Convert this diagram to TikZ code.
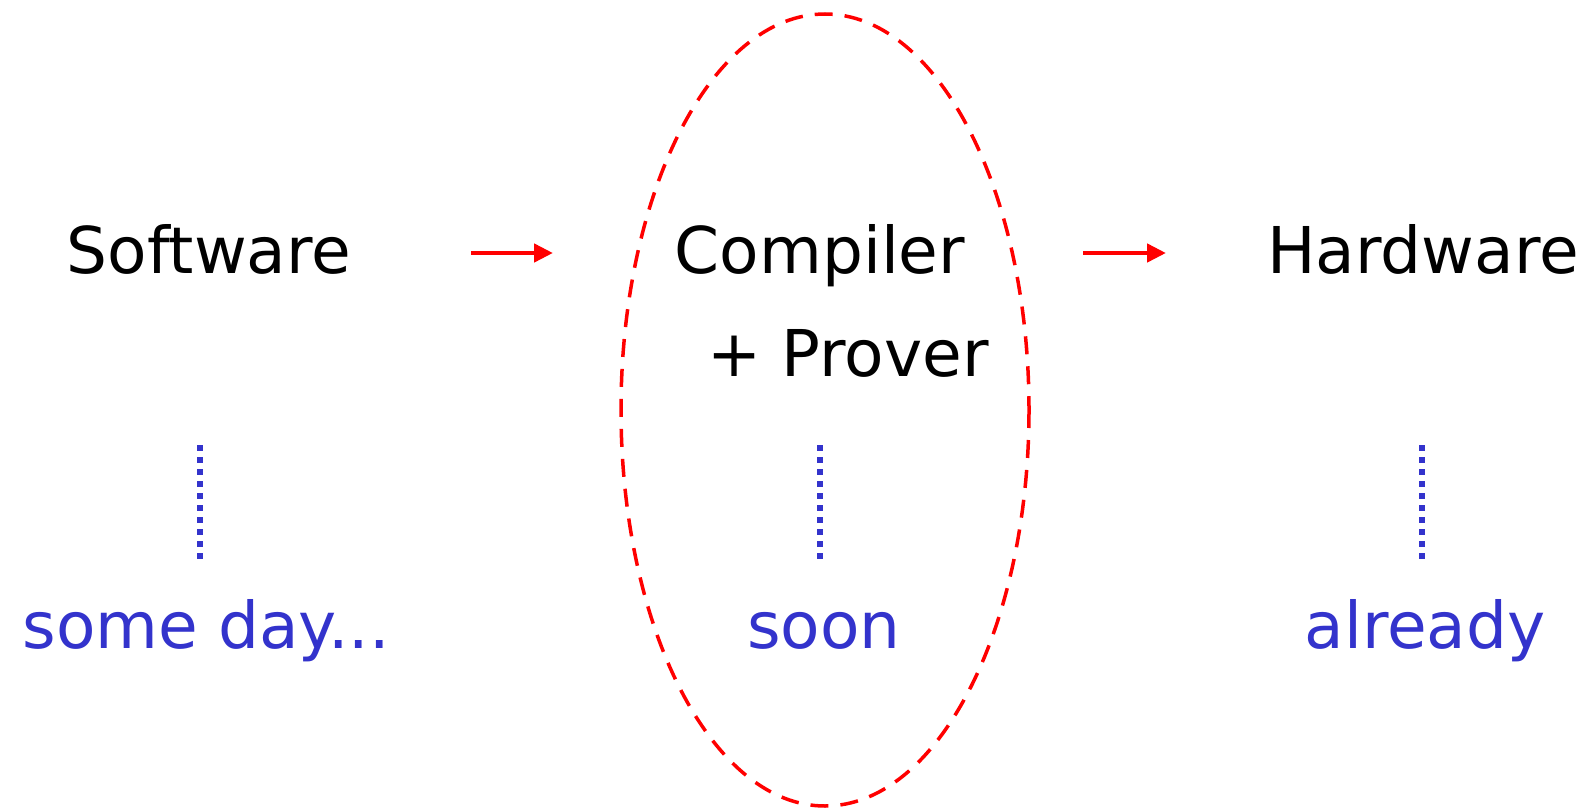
\documentclass[tikz,border=0pt]{standalone}
\usepackage{fontspec}
\setmainfont{DejaVu Sans}
\usetikzlibrary{arrows.meta}
\definecolor{noteblue}{RGB}{51,51,204}
\begin{document}
\begin{tikzpicture}[x=1pt,y=-1pt,
  label text/.style={font=\fontsize{64.5}{78}\selectfont, anchor=base, inner sep=0pt},
  stage/.style={label text, text=black},
  note/.style={label text, text=noteblue},
  flow/.style={draw=red, line width=4.5pt, -{Triangle[length=19pt,width=18pt]}},
  link/.style={draw=noteblue, line width=6pt, dash pattern=on 6pt off 6pt},
]
\useasboundingbox (0,0) rectangle (1587,811);
% the three stages
\node[stage] (sw) at (209,273) {Software};
\node[stage] (cc) at (820,273) {Compiler};
\node[stage] (pv) at (848,376) {+ Prover};
\node[stage] (hw) at (1423,273) {Hardware};
% flow between stages
\coordinate (a1s) at (471,253); \coordinate (a1e) at (553,253);
\coordinate (a2s) at (1083,253); \coordinate (a2e) at (1166,253);
\draw[flow] (a1s) -- (a1e);
\draw[flow] (a2s) -- (a2e);
% status notes
\node[note] (n1) at (206,648) {some day...};
\node[note] (n2) at (824,648) {soon};
\node[note] (n3) at (1425,648) {already};
\coordinate (d1t) at (200,445); \coordinate (d1b) at (200,559);
\coordinate (d2t) at (820,445); \coordinate (d2b) at (820,559);
\coordinate (d3t) at (1422,445); \coordinate (d3b) at (1422,559);
\draw[link] (d1t) -- (d1b);
\draw[link] (d2t) -- (d2b);
\draw[link] (d3t) -- (d3b);
% highlight around the compiler stage
\draw[red, line width=3.5pt, dash pattern=on 18pt off 12pt] (825,410) ellipse [x radius=204, y radius=396];
\end{tikzpicture}
\end{document}
